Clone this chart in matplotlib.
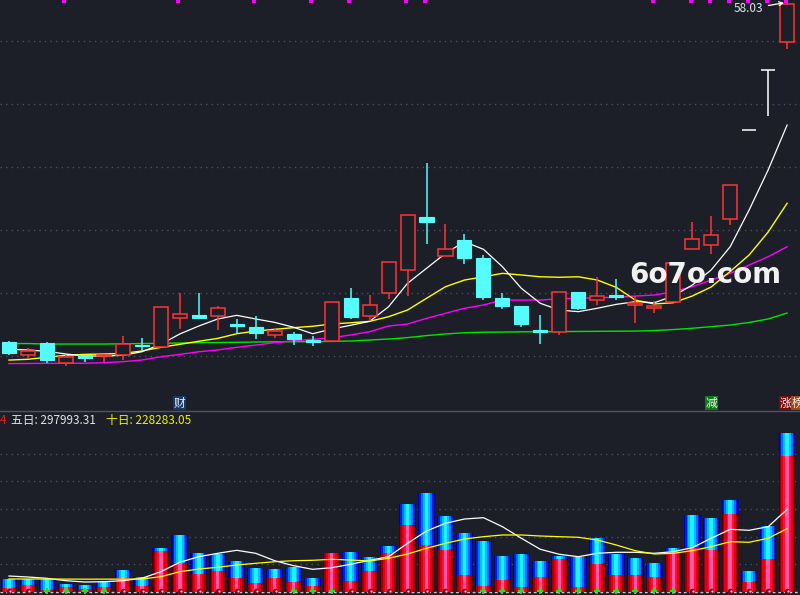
import numpy as np
import matplotlib.pyplot as plt
import matplotlib.transforms as mtransforms

plt.rcParams['font.family'] = ['Noto Sans CJK SC', 'DejaVu Sans']

BG = '#1c1f28'
UP = '#ff3434'
DOWN = '#54fcfc'
GRID = '#4a4e58'

# daily candles
open_ = [31.09, 30.06, 31.01, 29.47, 30.06, 30.00, 30.06, 30.90, 30.74, 33.04,
         33.23, 33.20, 32.54, 32.30, 31.64, 31.75, 31.25, 31.21, 34.60, 33.20,
         34.98, 36.80, 41.03, 37.91, 39.21, 37.78, 34.60, 33.97, 32.06, 31.88,
         35.08, 34.42, 34.84, 34.07, 33.79, 34.31, 38.52, 38.83, 40.90, 47.91,
         52.70, 54.94]
high = [31.21, 30.61, 31.11, 30.10, 30.10, 30.18, 31.59, 31.43, 33.87, 34.98,
        34.98, 33.97, 32.94, 33.15, 32.17, 31.90, 31.59, 34.26, 35.40, 34.84,
        37.44, 41.19, 45.32, 40.48, 39.68, 37.99, 35.00, 33.97, 33.25, 35.06,
        35.08, 36.27, 36.11, 34.76, 34.39, 37.36, 40.63, 41.11, 43.55, 47.91,
        52.70, 58.03]
low = [30.08, 29.87, 29.47, 29.23, 29.55, 29.55, 29.68, 30.42, 30.74, 32.17,
       33.04, 32.06, 31.83, 31.35, 31.45, 30.90, 30.79, 31.21, 32.94, 32.75,
       34.55, 34.79, 38.91, 37.91, 37.33, 34.44, 33.75, 32.33, 30.98, 31.69,
       33.63, 34.07, 34.44, 32.64, 33.44, 34.31, 38.52, 38.12, 40.42, 47.91,
       49.07, 54.37]
close = [30.26, 30.37, 29.66, 29.94, 29.87, 30.10, 30.98, 30.79, 33.87, 33.31,
         33.04, 33.79, 32.40, 31.80, 31.96, 31.35, 31.14, 34.26, 33.10, 34.02,
         37.44, 41.19, 40.66, 38.47, 37.80, 34.71, 33.99, 32.56, 31.90, 35.06,
         33.83, 34.74, 34.68, 34.23, 33.99, 37.36, 39.26, 39.58, 43.55, 47.91,
         52.70, 57.97]

# moving averages as shown on the chart
ma5 = [30.53, 30.48, 30.37, 30.16, 30.00, 30.00, 30.06, 30.34, 30.93, 31.75,
       32.38, 32.94, 33.23, 32.94, 32.67, 32.28, 31.77, 32.14, 32.44, 32.75,
       33.91, 35.77, 36.96, 38.15, 39.07, 38.47, 37.09, 35.37, 34.18, 33.65,
       33.52, 33.79, 34.10, 34.31, 34.23, 34.76, 35.63, 36.83, 38.67, 41.59,
       44.76, 48.33]
ma10 = [29.68, 29.74, 29.90, 30.06, 30.13, 30.16, 30.21, 30.40, 30.69, 30.93,
        31.17, 31.40, 31.77, 31.98, 32.12, 32.25, 32.36, 32.54, 32.64, 32.75,
        33.12, 33.65, 34.58, 35.50, 36.03, 36.29, 36.56, 36.43, 36.29, 36.25,
        36.29, 36.03, 35.45, 34.44, 34.13, 34.23, 34.76, 35.48, 36.71, 38.02,
        39.84, 42.12]
ma20 = [29.40, 29.41, 29.42, 29.42, 29.43, 29.47, 29.55, 29.68, 29.94, 30.13,
        30.34, 30.48, 30.69, 30.87, 31.06, 31.21, 31.33, 31.45, 31.67, 31.93,
        32.38, 32.54, 32.99, 33.39, 33.79, 34.05, 34.44, 34.44, 34.44, 34.55,
        34.58, 34.63, 34.66, 34.76, 34.84, 35.10, 35.50, 36.03, 36.56, 37.22,
        37.88, 38.67]
ma60 = [30.99, 30.99, 30.95, 30.95, 30.95, 30.95, 30.97, 30.99, 31.01, 31.03,
        31.06, 31.07, 31.09, 31.11, 31.13, 31.14, 31.14, 31.16, 31.19, 31.27,
        31.35, 31.46, 31.62, 31.75, 31.85, 31.89, 31.90, 31.92, 31.93, 31.94,
        31.95, 31.96, 31.97, 31.98, 32.02, 32.10, 32.20, 32.33, 32.46, 32.66,
        32.94, 33.41]

# volume (total) and the red part at the bottom of each bar
vol = [44600, 44600, 44600, 27600, 25000, 37400, 78400, 53000, 157200, 205500,
       140100, 136500, 111100, 85700, 83100, 90400, 49400, 141200, 143700, 125600,
       165500, 318000, 357900, 274400, 212700, 183700, 129200, 136500, 111100, 129200,
       126700, 194600, 136500, 120900, 103800, 158300, 278100, 267200, 332500, 74800,
       238100, 575700]
vol_red = [12000, 24000, 5000, 17800, 10500, 17800, 48300, 20300, 147400, 102700,
           62800, 75900, 48300, 32300, 48300, 34800, 20300, 140100, 39600, 75900,
           141200, 241800, 169200, 151000, 60300, 20300, 42100, 16700, 53000, 118300,
           16700, 100200, 60300, 60300, 53000, 148500, 161900, 151000, 281700, 34800,
           118300, 492200]
vol_ma5 = [56600, 53000, 48300, 39600, 34800, 35900, 39600, 48300, 72200, 106400,
           126700, 139000, 149900, 139000, 112200, 94000, 80900, 86800, 99100, 113600,
           126700, 175300, 220000, 247900, 263500, 268300, 235600, 193500, 153500, 135400,
           126700, 139000, 142700, 142700, 139000, 144800, 159400, 193500, 226100, 222500,
           235600, 297993.31]
vol_ma10 = [45900, 45700, 45700, 45400, 45200, 45200, 45400, 45700, 54100, 72200,
            82000, 88200, 96600, 102700, 108500, 112200, 113600, 117200, 114700, 111100,
            120900, 136500, 157200, 175300, 190900, 199300, 205500, 205500, 201800, 199300,
            197100, 187300, 169200, 148500, 136500, 139000, 148500, 163000, 181100, 179000,
            193500, 228283.05]

green_sig = [2, 3, 4, 5, 15, 16, 17, 25, 26, 27, 28, 29, 30, 31, 32, 33, 34, 35]
top_flags = [3, 9, 13, 16, 18, 21, 22, 34, 36, 37, 38, 39, 40, 41]
tags = [(9, '财', '#17386a', '#e8eef6'),
        (37, '减', '#0c7c18', '#f0f0f0'),
        (40.9, '涨', '#7c0a0a', '#f0f0f0'),
        (41.55, '榜', '#9a4c12', '#f0f0f0')]

x = np.arange(len(close))
vol = np.array(vol)
vol_red = np.array(vol_red)

fig = plt.figure(figsize=(8, 5.95), dpi=100, facecolor=BG)
ax = fig.add_axes([0, 0.3092, 1, 0.6908])
axv = fig.add_axes([0, 0, 1, 0.3076])
for a in (ax, axv):
    a.set_facecolor(BG)
    for s in a.spines.values():
        s.set_visible(False)
    a.set_xticks([])
    a.set_yticks([])
    a.set_xlim(-0.474, 41.68)

ax.set_ylim(25.635, 58.254)
axv.set_ylim(-12300, 651900)

# price grid
for p in [30, 35, 40, 45, 50, 55]:
    ax.axhline(p, color=GRID, lw=1, ls=(0, (1, 3)), zorder=0)

# candles
bw = 0.74
for i in x:
    o, h, l, c = open_[i], high[i], low[i], close[i]
    if o == c:
        ax.hlines(c, i - bw / 2, i + bw / 2, color='white', lw=1.1, zorder=3)
        ax.vlines(i, l, h, color='white', lw=1.1, zorder=3)
    elif c > o:
        ax.vlines(i, c, h, color=UP, lw=1.1, zorder=3)
        ax.vlines(i, l, o, color=UP, lw=1.1, zorder=3)
        ax.bar(i, c - o, bottom=o, width=bw, color=BG, edgecolor=UP, lw=1.1, zorder=3)
    else:
        ax.vlines(i, l, h, color=DOWN, lw=1.1, zorder=3)
        ax.bar(i, o - c, bottom=c, width=bw, color=DOWN, edgecolor=DOWN, lw=0.8, zorder=3)

ax.plot(x, ma60, color='#00e600', lw=1, zorder=2)
ax.plot(x, ma20, color='#ff00ff', lw=1, zorder=2)
ax.plot(x, ma10, color='#ffff00', lw=1, zorder=2)
ax.plot(x, ma5, color='white', lw=0.9, zorder=2)

top_tr = mtransforms.blended_transform_factory(ax.transData, ax.transAxes)
ax.plot(np.array(top_flags) - 0.08, [0.997] * len(top_flags), 's', color='#ff00ff',
        ms=2.6, mew=0, transform=top_tr, clip_on=False, zorder=5)

ax.annotate(f'{high[-1]:.2f}', xy=(40.84, high[-1]), xytext=(39.73, 57.54),
            ha='right', va='center', fontsize=8.5, color='#dde6ee',
            arrowprops=dict(arrowstyle='->', color='white', lw=0.9,
                            shrinkA=2, shrinkB=0, mutation_scale=7), zorder=6)

for xi, ch, fc, tc in tags:
    ax.text(xi, 0.0195, ch, transform=top_tr, ha='center', va='center',
            fontsize=8.5, color=tc, clip_on=True,
            bbox=dict(boxstyle='square,pad=0.05', fc=fc, ec='none'), zorder=6)

ax.text(36.7, 0.331, '6o7o.com', transform=top_tr, ha='center', va='center',
        fontsize=20, fontweight='bold', family='DejaVu Sans', color='#f2f2f2', zorder=7)

fig.add_artist(plt.Line2D([0, 1], [0.3092, 0.3092], color='#50545c', lw=1))

# volume panel
for v in [100000, 200000, 300000, 400000, 500000]:
    axv.axhline(v, color=GRID, lw=1, ls=(0, (1, 3)), zorder=0)
axv.axhline(0, color='#c8c8c8', lw=1, ls=(0, (2, 2)), zorder=0.5)

red_layers = [(0.88, '#4e0006'), (0.76, '#9a000a'), (0.6, '#e00010'),
              (0.38, '#ff1030'), (0.18, '#ff58a8')]
blue_layers = [(0.88, '#0000a0'), (0.76, '#0020e0'), (0.6, '#0070ff'),
               (0.4, '#00c0ff'), (0.2, '#20f0ff')]
for w, col in red_layers:
    axv.bar(x, vol_red, width=w, color=col, lw=0, zorder=2)
for w, col in blue_layers:
    axv.bar(x, vol - vol_red, bottom=vol_red, width=w, color=col, lw=0, zorder=2)

axv.plot(x, vol_ma5, color='white', lw=0.9, zorder=3)
axv.plot(x, vol_ma10, color='#ffff00', lw=0.9, zorder=3)

is_green = np.isin(x, green_sig)
axv.plot(x[is_green], np.zeros(is_green.sum()) + 3000, 'P', color='#22dd22', ms=5,
         mew=0, zorder=4)
axv.plot(x[~is_green], np.zeros((~is_green).sum()) + 3000, 'o', color='#8a0010',
         ms=4, mew=0, zorder=4)
axv.plot(x[~is_green] + 0.05, np.zeros((~is_green).sum()) + 3000, '.', color='#e0e0e0',
         ms=1.2, zorder=5)

axv.text(0.0075, 0.956, '4', transform=axv.transAxes, ha='right', va='center',
         fontsize=8.5, color='#e02020')
axv.text(0.0135, 0.956, f'五日: {vol_ma5[-1]:.2f}', transform=axv.transAxes,
         ha='left', va='center', fontsize=8.5, color='#e4e4e4')
axv.text(0.1325, 0.956, f'十日: {vol_ma10[-1]:.2f}', transform=axv.transAxes,
         ha='left', va='center', fontsize=8.5, color='#f0f000')

fig.savefig('out.png', dpi=100, facecolor=BG)
